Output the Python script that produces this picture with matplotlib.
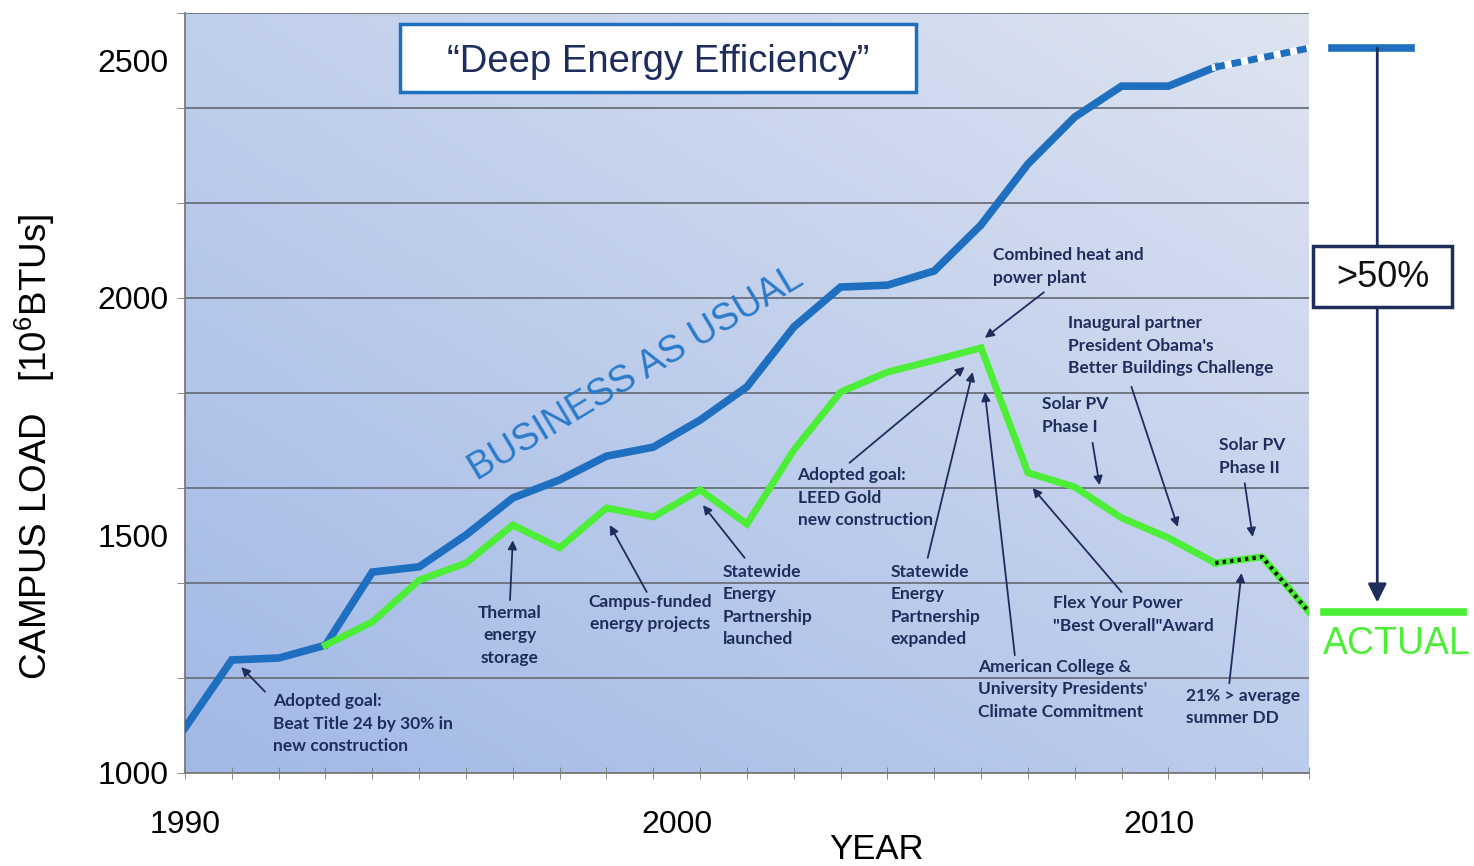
import numpy as np
import matplotlib.pyplot as plt
from matplotlib.patches import Rectangle

# data
years = list(range(1990, 2013))
bau = [1095, 1238, 1242, 1269, 1423, 1434, 1501, 1579, 1617, 1667, 1686, 1743,
       1813, 1939, 2023, 2027, 2057, 2154, 2282, 2381, 2446, 2446, 2486]
bau_proj_years = [2012, 2014]
bau_proj = [2486, 2526]

actual_years = list(range(1993, 2013))
actual = [1269, 1318, 1406, 1442, 1522, 1474, 1558, 1539, 1596, 1524, 1680,
          1802, 1844, 1869, 1895, 1632, 1602, 1537, 1495, 1442]
actual_proj_years = [2012, 2013, 2014]
actual_proj = [1442, 1455, 1339]

ytick_vals = [1000, 1500, 2000, 2500]
xtick_pos = [1990, 2000.5, 2010.8]
xtick_labels = ['1990', '2000', '2010']

# annotations: text, (x, y) of text top, alignment, arrow tail, arrow tip
notes = [
    ("Adopted goal:\nBeat Title 24 by 30% in\nnew construction", (1991.88, 1168), 'left',
     (1991.71, 1171), (1991.20, 1223)),
    ("Thermal\nenergy\nstorage", (1996.94, 1354), 'center',
     (1996.94, 1364), (1997.00, 1490)),
    ("Campus-funded\nenergy projects", (1999.93, 1377), 'center',
     (1999.86, 1381), (1999.07, 1522)),
    ("Statewide\nEnergy\nPartnership\nlaunched", (2001.48, 1440), 'left',
     (2001.95, 1453), (2001.06, 1564)),
    ("Adopted goal:\nLEED Gold\nnew construction", (2003.08, 1644), 'left',
     (2004.19, 1653), (2006.65, 1855)),
    ("Statewide\nEnergy\nPartnership\nexpanded", (2005.07, 1440), 'left',
     (2005.86, 1453), (2006.82, 1844)),
    ("Combined heat and\npower plant", (2007.25, 2107), 'left',
     (2008.34, 2012), (2007.08, 1916)),
    ("American College &\nUniversity Presidents'\nClimate Commitment", (2006.93, 1240), 'left',
     (2007.72, 1248), (2007.08, 1802)),
    ("Inaugural partner\nPresident Obama's\nBetter Buildings Challenge", (2008.85, 1964), 'left',
     (2010.21, 1813), (2011.20, 1518)),
    ("Solar PV\nPhase I", (2008.31, 1793), 'left',
     (2009.38, 1695), (2009.53, 1606)),
    ("Flex Your Power\n\"Best Overall\"Award", (2008.53, 1374), 'left',
     (2010.00, 1381), (2008.10, 1600)),
    ("Solar PV\nPhase II", (2012.07, 1707), 'left',
     (2012.63, 1610), (2012.80, 1497)),
    ("21% > average\nsummer DD", (2011.37, 1179), 'left',
     (2012.30, 1189), (2012.56, 1421)),
]

blue = '#1f6fc0'
green = '#4cee38'
navy = '#1f2d5c'

plt.rcParams['font.family'] = ['Liberation Sans', 'DejaVu Sans']
plt.rcParams['mathtext.fontset'] = 'custom'
plt.rcParams['mathtext.rm'] = 'Liberation Sans'

fig = plt.figure(figsize=(14.74, 8.66), dpi=100)
ax = fig.add_axes([0.1255, 0.1074, 0.7625, 0.8776])
ax.set_xlim(1990, 2014)
ax.set_ylim(1000, 2600)

# gradient background
bl = np.array([162, 185, 230]) / 255
tl = np.array([192, 207, 236]) / 255
br = np.array([188, 204, 236]) / 255
tr = np.array([222, 228, 240]) / 255
u = np.linspace(0, 1, 200)[None, :, None]
v = np.linspace(1, 0, 200)[:, None, None]
grad = (1 - u) * (1 - v) * bl + (1 - u) * v * tl + u * (1 - v) * br + u * v * tr
ax.imshow(grad, extent=[1990, 2014, 1000, 2600], aspect='auto', zorder=0)

# ticks and grid
ax.xaxis.remove_overlapping_locs = False
ax.yaxis.remove_overlapping_locs = False
ax.set_yticks(ytick_vals)
ax.set_yticks(np.arange(1000, 2601, 200), minor=True)
ax.set_xticks(xtick_pos, xtick_labels)
ax.set_xticks(np.arange(1990, 2015), minor=True)
ax.tick_params(axis='y', which='major', length=0, labelsize=23, pad=12)
ax.tick_params(axis='y', which='minor', length=6, color='#777777')
ax.tick_params(axis='x', which='major', length=0, labelsize=23, pad=27)
ax.tick_params(axis='x', which='minor', length=8, direction='inout', color='#777777')
ax.grid(which='minor', axis='y', color='#6b717c', lw=1.3)
for s in ['top', 'right']:
    ax.spines[s].set_visible(False)
for s in ['left', 'bottom']:
    ax.spines[s].set_color('#7a7a7a')
    ax.spines[s].set_linewidth(1.3)

# lines
ax.plot(years, bau, color=blue, lw=5.5, solid_joinstyle='miter', zorder=3)
ax.plot(bau_proj_years, bau_proj, color='white', lw=5, zorder=3)
ax.plot(bau_proj_years, bau_proj, color=blue, lw=5, dashes=(1.4, 1.0), zorder=3)
ax.plot(actual_years, actual, color=green, lw=5, solid_joinstyle='miter', zorder=4)
ax.plot(actual_proj_years, actual_proj, color=green, lw=5, zorder=4)
ax.plot(actual_proj_years, actual_proj, color='#102010', lw=3, dashes=(0.8, 1.0), zorder=4)

ax.text(1999.63, 1840, 'BUSINESS AS USUAL', rotation=31, rotation_mode='anchor',
        ha='center', va='center', fontsize=27, color='#2b7bc9', zorder=5)

# title box
ax.add_patch(Rectangle((1994.59, 2433), 11.03, 144, facecolor='white',
                       edgecolor=blue, lw=2.5, zorder=5))
ax.text(2000.10, 2497, '\u201cDeep Energy Efficiency\u201d', ha='center', va='center',
        fontsize=27.5, color=navy, zorder=6)

# event notes
for txt, pos, ha, tail, tip in notes:
    ax.text(pos[0], pos[1], txt, ha=ha, va='top', fontsize=12.5, color=navy,
            family=['Lato', 'DejaVu Sans'], weight='bold', linespacing=1.5, zorder=6)
    ax.annotate('', xy=tip, xytext=tail,
                arrowprops=dict(arrowstyle='-|>', color=navy, lw=1.3,
                                mutation_scale=13, shrinkA=0, shrinkB=0), zorder=6)

# right-hand side comparison
ax.plot([2014.50, 2016.19], [bau_proj[-1]] * 2, color=blue, lw=5.5, clip_on=False)
ax.plot([2014.33, 2017.28], [actual_proj[-1]] * 2, color=green, lw=5.5, clip_on=False)
ax.annotate('', xy=(2015.46, actual_proj[-1] + 20), xytext=(2015.46, bau_proj[-1]),
            arrowprops=dict(arrowstyle='-|>', color=navy, lw=2, mutation_scale=28,
                            shrinkA=0, shrinkB=0), annotation_clip=False)
ax.add_patch(Rectangle((2014.08, 1981), 2.98, 128, facecolor='white',
                       edgecolor=navy, lw=2.5, zorder=5, clip_on=False))
ax.text(2015.57, 2044, '>50%', ha='center', va='center', fontsize=26,
        color='#111111', zorder=6, clip_on=False)
ax.text(2014.29, 1272, 'ACTUAL', ha='left', va='center', fontsize=27,
        color=green, zorder=6, clip_on=False)

fig.text(35 / 1474, 1 - 447 / 866, 'CAMPUS LOAD   [10$^{\\mathregular{6}}$BTUs]',
         rotation=90, ha='center', va='center', fontsize=26.5)
fig.text(877 / 1474, 1 - 833 / 866, 'YEAR', ha='center', va='top', fontsize=25)

fig.savefig('out.png', dpi=100)
